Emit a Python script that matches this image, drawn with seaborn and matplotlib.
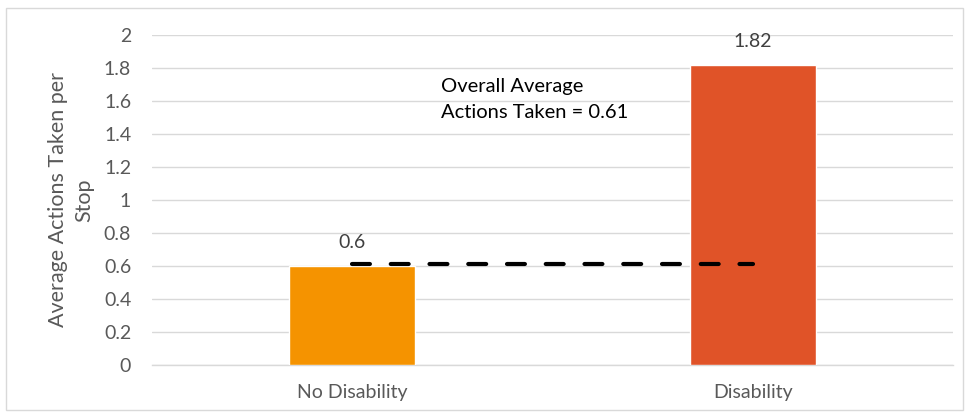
import matplotlib
matplotlib.use("Agg")
import matplotlib.pyplot as plt
import seaborn as sns
import pandas as pd
from matplotlib.patches import Rectangle

categories = ["No Disability", "Disability"]
values = [0.6, 1.82]
value_labels = ["0.6", "1.82"]
overall_average = 0.61
yticks = [0, 0.2, 0.4, 0.6, 0.8, 1, 1.2, 1.4, 1.6, 1.8, 2]
ytick_labels = ["0", "0.2", "0.4", "0.6", "0.8", "1", "1.2", "1.4", "1.6", "1.8", "2"]
colors = ["#F59300", "#E05328"]

sns.set_theme(style="white")
plt.rcParams["font.family"] = ["Lato", "DejaVu Sans"]

df = pd.DataFrame({"cat": categories, "val": values})

fig = plt.figure(figsize=(9.69, 4.15), dpi=100)
ax = fig.add_axes([152 / 969, 50.5 / 415, 801 / 969, 329.5 / 415])

sns.barplot(data=df, x="cat", y="val", hue="cat", palette=colors, width=0.315,
            legend=False, ax=ax, saturation=1, zorder=3)

ax.set_xlim(-0.5, 1.5)
ax.set_ylim(0, 2)
ax.set_yticks(yticks)
ax.set_yticklabels(ytick_labels)
ax.grid(axis="y", color="#D9D9D9", linewidth=1.0, zorder=0)
ax.set_axisbelow(True)
for s in ["top", "right", "left"]:
    ax.spines[s].set_visible(False)
ax.spines["bottom"].set_color("#D9D9D9")
ax.spines["bottom"].set_linewidth(1.0)
ax.tick_params(axis="y", length=0, labelsize=14, labelcolor="#595959", pad=15)
ax.tick_params(axis="x", length=0, labelsize=14, labelcolor="#595959", pad=14)
ax.set_xlabel("")
ax.set_ylabel("Average Actions Taken per\nStop", fontsize=15.5, color="#595959",
              labelpad=7, linespacing=1.4)

for i, (v, lab) in enumerate(zip(values, value_labels)):
    ax.annotate(lab, (i, v), xytext=(0, 16.5), textcoords="offset points",
                ha="center", va="center", fontsize=14, color="#404040")

ax.plot([0, 1], [overall_average, overall_average], color="black", linewidth=3,
        linestyle=(0, (4.3, 5)), dash_capstyle="round", zorder=4)

ax.text(0.2225, 1.69, "Overall Average", fontsize=14.5, color="black",
        ha="left", va="center")
ax.text(0.2225, 1.527, "Actions Taken = 0.61", fontsize=14.5, color="black",
        ha="left", va="center")

fig.patches.append(Rectangle((6 / 969, 5 / 415), 957 / 969, 402 / 415,
                             transform=fig.transFigure, fill=False,
                             edgecolor="#D9D9D9", linewidth=1.0))

fig.savefig("out.png", dpi=100)
